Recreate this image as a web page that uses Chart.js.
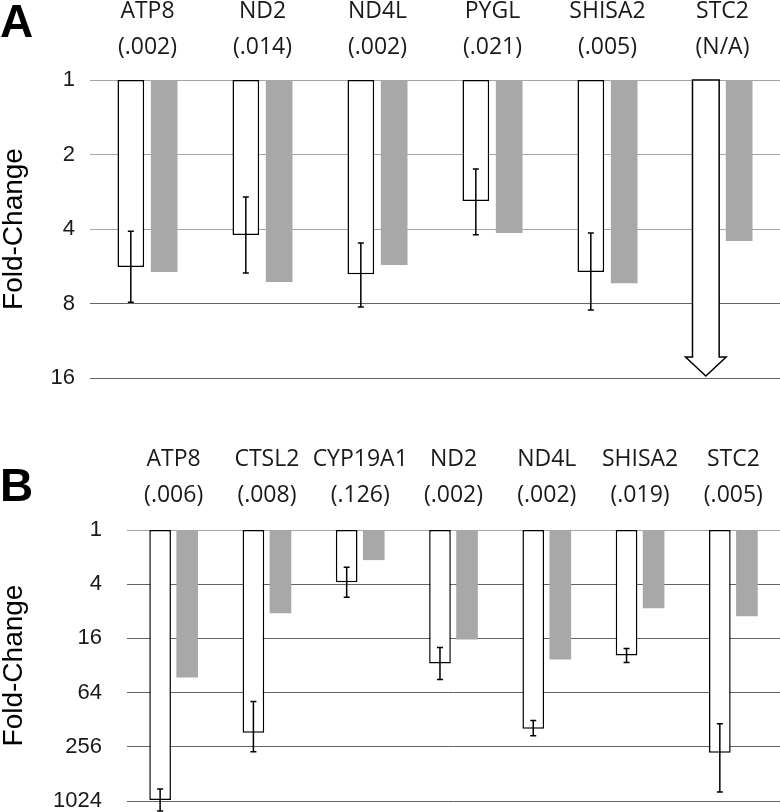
<!DOCTYPE html>
<html>
<head>
<meta charset="utf-8">
<script src="https://cdn.jsdelivr.net/npm/chart.js@4.4.0/dist/chart.umd.min.js"></script>
<style>
body { margin: 0; background: #fff; width: 780px; height: 812px; overflow: hidden; position: relative; }
.box { position: absolute; left: 0; width: 780px; }
.panel { position: absolute; left: 0; font: bold 46px "Liberation Sans", Arial, sans-serif; line-height: 1; color: #000; }
</style>
</head>
<body>
<div class="box" style="top:0;height:400px"><canvas id="chartA"></canvas></div>
<div class="box" style="top:400px;height:412px"><canvas id="chartB"></canvas></div>
<div class="panel" style="top:-2px">A</div>
<div class="panel" style="top:462px">B</div>
<script>
// panel A
const genesA = ['ATP8', 'ND2', 'ND4L', 'PYGL', 'SHISA2', 'STC2'];
const pvalsA = ['(.002)', '(.014)', '(.002)', '(.021)', '(.005)', '(N/A)'];
const whiteA = [5.7, 4.23, 6.1, 3.08, 5.97, null];
const errLowA = [4.08, 2.97, 4.56, 2.29, 4.15, null];
const errHighA = [7.9, 6.03, 8.26, 4.22, 8.5, null];
const greyA = [5.97, 6.55, 5.59, 4.15, 6.62, 4.47];
const arrowA = [null, null, null, null, null, 16];   // STC2: off scale
const ticksA = [1, 2, 4, 8, 16];

// panel B
const genesB = ['ATP8', 'CTSL2', 'CYP19A1', 'ND2', 'ND4L', 'SHISA2', 'STC2'];
const pvalsB = ['(.006)', '(.008)', '(.126)', '(.002)', '(.002)', '(.019)', '(.005)'];
const whiteB = [1000, 179, 3.8, 30.4, 161, 24.8, 298];
const errLowB = [754, 80.6, 2.59, 20.2, 131, 20.7, 142];
const errHighB = [1323, 291, 5.58, 45.9, 193, 29.6, 813];
const greyB = [43.5, 8.4, 2.16, 16.5, 27.5, 7.4, 9.1];
const ticksB = [1, 4, 16, 64, 256, 1024];

// error bars + the down arrow, drawn on top of dataset 0
const errorBars = {
    id: 'errorBars',
    afterDatasetsDraw(chart, args, opts) {
        const ctx = chart.ctx;
        const y = chart.scales.y;
        const meta = chart.getDatasetMeta(0);
        const refW = meta.data.find(b => b.width).width;
        ctx.save();
        ctx.strokeStyle = '#000';
        ctx.lineWidth = 1.5;
        opts.low.forEach((lo, i) => {
            if (lo == null) return;
            const x = meta.data[i].x;
            const y1 = y.getPixelForValue(lo);
            const y2 = y.getPixelForValue(opts.high[i]);
            ctx.beginPath();
            ctx.moveTo(x, y1); ctx.lineTo(x, y2);
            ctx.moveTo(x - 3, y1); ctx.lineTo(x + 3, y1);
            ctx.moveTo(x - 3, y2); ctx.lineTo(x + 3, y2);
            ctx.stroke();
        });
        (opts.arrow || []).forEach((v, i) => {
            if (v == null) return;
            const x = meta.data[i].x;
            const half = (meta.data[i].width || refW) / 2;
            const top = y.getPixelForValue(1);
            const tip = y.getPixelForValue(v) - 2;
            const neck = tip - 19;
            const wing = half + 7;
            ctx.beginPath();
            ctx.moveTo(x - half, top);
            ctx.lineTo(x + half, top);
            ctx.lineTo(x + half, neck);
            ctx.lineTo(x + wing, neck);
            ctx.lineTo(x, tip);
            ctx.lineTo(x - wing, neck);
            ctx.lineTo(x - half, neck);
            ctx.closePath();
            ctx.fillStyle = '#fff';
            ctx.fill();
            ctx.stroke();
        });
        ctx.restore();
    }
};

function makeChart(id, genes, pvals, white, grey, low, high, arrow, ticks, opt) {
    return new Chart(document.getElementById(id), {
        type: 'bar',
        data: {
            labels: genes.map((g, i) => [g, pvals[i]]),
            datasets: [{
                data: white,
                backgroundColor: '#fff',
                borderColor: '#000',
                borderWidth: 1.5,
                borderSkipped: false
            }, {
                data: grey,
                backgroundColor: '#a8a8a8',
                borderWidth: 0
            }]
        },
        options: {
            responsive: true,
            maintainAspectRatio: false,
            animation: false,
            categoryPercentage: 0.58,
            barPercentage: 0.8,
            layout: { padding: { top: 0, left: 0, right: 0, bottom: opt.padBottom } },
            plugins: {
                legend: { display: false },
                tooltip: { enabled: false },
                errorBars: { low: low, high: high, arrow: arrow }
            },
            scales: {
                x: {
                    position: 'top',
                    grid: { display: false },
                    border: { display: false },
                    ticks: {
                        color: '#1a1a1a',
                        font: { family: 'Open Sans', size: 23, lineHeight: 1.57 },
                        padding: opt.labPad,
                        maxRotation: 0,
                        autoSkip: false
                    },
                    afterFit: s => { s.height = opt.top; s.paddingLeft = 0; s.paddingRight = 0; }
                },
                y: {
                    type: 'logarithmic',
                    reverse: true,
                    min: 1,
                    max: ticks[ticks.length - 1],
                    afterBuildTicks: s => { s.ticks = ticks.map(v => ({ value: v })); },
                    ticks: {
                        callback: v => String(v),
                        color: '#1a1a1a',
                        font: { family: 'Liberation Sans', size: 22 },
                        padding: opt.tickPad
                    },
                    grid: {
                        drawTicks: false,
                        lineWidth: 1,
                        color: c => (c.tick && c.tick.value <= opt.lightMax) ? '#a6a6a6' : '#646464'
                    },
                    border: { display: false },
                    title: {
                        display: true,
                        text: 'Fold-Change',
                        color: '#000',
                        font: { family: 'Liberation Sans', size: 28, lineHeight: 1 },
                        padding: 0
                    },
                    afterFit: s => { s.width = opt.left; s.paddingTop = 0; s.paddingBottom = 0; }
                }
            }
        },
        plugins: [errorBars]
    });
}

makeChart('chartA', genesA, pvalsA, whiteA, greyA, errLowA, errHighA, arrowA, ticksA,
    { top: 80, left: 90, tickPad: 15, labPad: 6, padBottom: 22, lightMax: 4 });
makeChart('chartB', genesB, pvalsB, whiteB, greyB, errLowB, errHighB, null, ticksB,
    { top: 130, left: 127, tickPad: 25, labPad: 8, padBottom: 11, lightMax: 1 });
</script>
</body>
</html>
